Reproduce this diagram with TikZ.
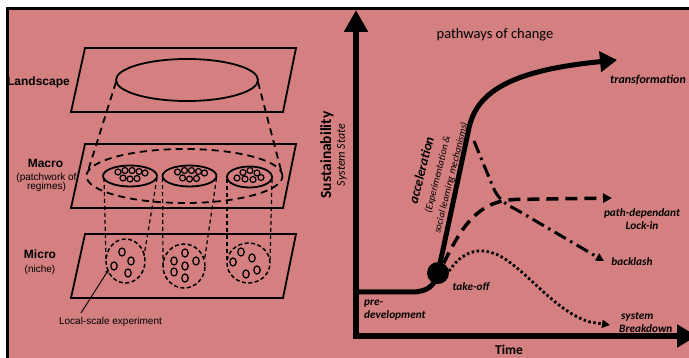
\documentclass[tikz,border=0pt]{standalone}
\usepackage{fontspec}
\setmainfont{Carlito}
\newfontfamily\arialfont{Liberation Sans}
\usetikzlibrary{arrows.meta}
\definecolor{salmon}{RGB}{212,128,128}

\begin{document}
\begin{tikzpicture}[x=1pt,y=-1pt,
  plane/.style={draw=black,line width=1.8pt,line join=miter},
  rim/.style={draw=black,line width=1.8pt},
  bigdash/.style={draw=black,line width=1.8pt,dash pattern=on 7pt off 5pt},
  tube/.style={draw=black,line width=1.2pt,dash pattern=on 4pt off 3pt},
  niche/.style={draw=black,line width=1.5pt,dash pattern=on 4pt off 2.5pt},
  seed/.style={draw=black,line width=1.2pt},
  lvl/.style={font=\arialfont\bfseries\fontsize{12}{13}\selectfont,inner sep=0pt},
  sub/.style={font=\arialfont\fontsize{10}{11}\selectfont,inner sep=0pt,align=center},
  axis/.style={line width=6pt},
  tag/.style={font=\bfseries\itshape\fontsize{11.3}{13}\selectfont,inner sep=0pt},
]
\useasboundingbox (0,0) rectangle (689,358);
\fill[white] (0,0) rectangle (689,358);
\fill[salmon] (7,8) rectangle (689,358);
\draw[line width=2.5pt] (7.7,358) -- (7.7,8.7) -- (689,8.7);

% ---------- multi-level perspective ----------
\foreach \dy in {0,96,186}
  \draw[plane] (85,48+\dy) -- (296,48+\dy) -- (283,112+\dy) -- (71,112+\dy) -- cycle;

% landscape
\draw[rim] (187,80) ellipse [x radius=71pt, y radius=21pt];
\coordinate (landW) at (116,82);
\coordinate (landE) at (258,82);
% macro regime envelope
\draw[bigdash] (184.5,176) ellipse [x radius=98pt, y radius=27pt];
\coordinate (macW) at (87,174);
\coordinate (macE) at (282,174);
\draw[bigdash] (landW) -- (macW);
\draw[bigdash] (landE) -- (macE);

% regimes (tops of the tubes)
\draw[rim] (130,176) ellipse [x radius=27pt, y radius=10.5pt];
\draw[rim] (189.5,176) ellipse [x radius=27pt, y radius=10.5pt];
\draw[rim] (249.5,177) ellipse [x radius=22.5pt, y radius=10.5pt];
\foreach \cx in {0,59.5}
  \foreach \x/\y in {118/172,125/170.5,132/170.5,139/171.5,145/173,123/178,130/179,137/178.5}
    \draw[seed] (\x+\cx,\y) circle [radius=3pt];
\foreach \x/\y in {243/172.5,250/170.5,257/173,237/178,245/179,253/179.5,261/177.5}
  \draw[seed] (\x,\y) circle [radius=3pt];

% niches
\draw[niche] (125.5,261) ellipse [x radius=19.5pt, y radius=22pt];
\draw[niche] (184,266) ellipse [x radius=21pt, y radius=22pt];
\draw[niche] (248.5,263) ellipse [x radius=21.5pt, y radius=20pt];

% tubes from regimes down to niches
\coordinate (r1w) at (104,178); \coordinate (n1w) at (106,259);
\coordinate (r1e) at (157,178); \coordinate (n1e) at (144,256);
\coordinate (r2w) at (162.5,178); \coordinate (n2w) at (163,264);
\coordinate (r2e) at (216.5,178); \coordinate (n2e) at (204.5,260);
\coordinate (r3w) at (227,179); \coordinate (n3w) at (227,262);
\coordinate (r3e) at (272,179); \coordinate (n3e) at (270,262);
\foreach \a/\b in {r1w/n1w,r1e/n1e,r2w/n2w,r2e/n2e,r3w/n3w,r3e/n3e}
  \draw[tube] (\a) -- (\b);

% experiments inside the niches
\foreach \x/\y in {122/252,131/261,114/266,128/273,
                   185/253,174/261,196/261,185/266,174/272,185/278,
                   241/252,233/262,252/258,257/270,246/274}
  \draw[seed] (\x,\y) ellipse [x radius=3.2pt, y radius=4pt];

% labels
\node[lvl] (landscape) at (38.5,82) {Landscape};
\node[lvl] (macro) at (45.5,163) {Macro};
\node[sub] (patch) at (46.5,182.5) {(patchwork of\\[-1.5pt]regimes)};
\node[lvl] (micro) at (40,254) {Micro};
\node[sub] (nichelbl) at (40,270) {(niche)};
\node[sub] (local) at (110.5,322) {Local-scale experiment};
\coordinate (expt) at (109,269);
\draw[line width=0.9pt,-{Stealth[length=5pt,width=3.5pt]}] (81,313) -- (expt);

% ---------- pathways of change ----------
\coordinate (origin) at (356,336);
\coordinate (ytip) at (356,10);
\coordinate (xtip) at (697,336);
\draw[axis,-{Triangle[length=22pt,width=23pt]}] (356,339) -- (ytip);
\draw[axis,-{Triangle[length=20pt,width=22pt]}] (353,336) -- (xtip);

\node[font=\fontsize{14.5}{16}\selectfont,inner sep=0pt] (title) at (495,35) {pathways of change};
\node[font=\bfseries\fontsize{15.5}{17}\selectfont,rotate=90,inner sep=0pt] (sust) at (327,155) {Sustainability};
\node[font=\itshape\fontsize{12}{13}\selectfont,rotate=90,inner sep=0pt] (state) at (342,155) {System State};
\node[font=\bfseries\fontsize{13.5}{15}\selectfont,inner sep=0pt] (time) at (509,349.5) {Time};

% take-off point
\node[circle,fill=black,minimum size=22pt,inner sep=0pt] (take) at (438,273) {};
\coordinate (predev) at (357,292);
\coordinate (transf) at (617,60);
\draw[line width=5pt,line cap=round,-{Triangle[length=17pt,width=20pt]}]
  (predev) -- (412,292) .. controls (428,292) and (435,285) .. (take.center)
  -- (469,128) .. controls (477,90) and (515,70) .. (transf);

% lock-in
\coordinate (lockend) at (612,198);
\draw[line width=3.5pt,dash pattern=on 12pt off 7pt,-{Triangle[length=9pt,width=9pt]}]
  (take.60) .. controls (462,226) and (478,201) .. (515,199.5) -- (lockend);
% backlash
\coordinate (bstart) at (474,141);
\coordinate (bend) at (604,261);
\draw[line width=3pt,dash pattern=on 13pt off 5pt on 2.5pt off 5pt,-{Triangle[length=8pt,width=8pt]}]
  (bstart) -- (493,187) .. controls (498,199) and (505,204) .. (517,210) -- (bend);
% breakdown
\coordinate (brkend) at (610,325);
\draw[line width=2.8pt,dash pattern=on 2.5pt off 2.5pt,-{Triangle[length=8pt,width=8pt]}]
  (take.10) .. controls (462,252) and (478,246) .. (498,255)
  .. controls (525,268) and (555,312) .. (590,322) -- (brkend);

% pathway labels
\node[font=\bfseries\itshape\fontsize{12}{13}\selectfont,inner sep=0pt] (tlab) at (648,80) {transformation};
\node[tag,align=center] (lock) at (642,219) {path-dependant\\[0pt]Lock-in};
\node[tag] (back) at (632,262) {backlash};
\node[tag,align=left,anchor=west] (sys) at (619,322) {\hspace*{2pt}system\\[0pt]Breakdown};
\node[tag] (tlabel) at (471,287) {take-off};
\node[tag,align=left,anchor=west] (pre) at (364,310) {pre-\\[0pt]development};
\node[rotate=76,align=center,inner sep=0pt,font=\itshape\fontsize{10}{12.5}\selectfont] (accel) at (436,174)
  {{\bfseries\fontsize{13.5}{15}\selectfont acceleration}\\[3pt](Experimentation \&\\[1pt]social learning mechanisms)};
\end{tikzpicture}
\end{document}
